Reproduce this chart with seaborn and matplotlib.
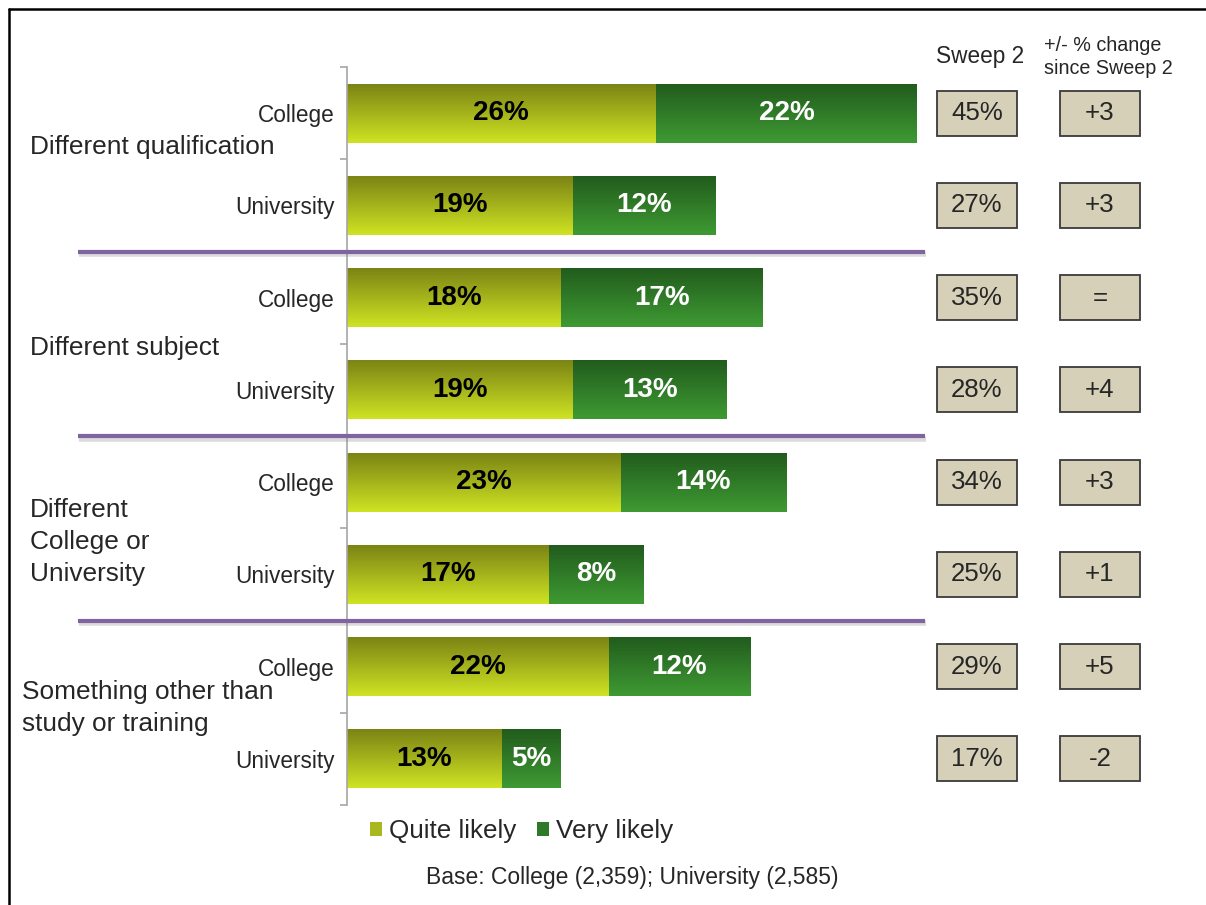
import numpy as np
import pandas as pd
import matplotlib
matplotlib.use("Agg")
import matplotlib.pyplot as plt
import seaborn as sns
from matplotlib.colors import to_rgb
from matplotlib.patches import Rectangle, Patch
from matplotlib.lines import Line2D
from matplotlib.transforms import blended_transform_factory
import matplotlib.patheffects as pe

# ---- data -------------------------------------------------------------
groups = ["Different qualification", "Different subject",
          "Different\nCollege or\nUniversity", "Something other than\nstudy or training"]
types = ["College", "University"]
quite_likely = [26, 19, 18, 19, 23, 17, 22, 13]
very_likely = [22, 12, 17, 13, 14, 8, 12, 5]
sweep2 = [45, 27, 35, 28, 34, 25, 29, 17]
change = ["+3", "+3", "=", "+4", "+3", "+1", "+5", "-2"]
series_names = ["Quite likely", "Very likely"]
base_note = "Base: College (2,359); University (2,585)"

# ---- style ------------------------------------------------------------
sns.set_style("white")
plt.rcParams["font.family"] = ["Liberation Sans", "DejaVu Sans"]

QUITE_TOP, QUITE_BOT = "#7A8314", "#CFE323"
VERY_TOP, VERY_BOT = "#215B1D", "#3F9A33"
PURPLE = "#8064A2"
BOX_FC = "#D6D0B8"

W, H = 1206, 905
fig = plt.figure(figsize=(W / 100, H / 100), dpi=100)
ax = fig.add_axes([347 / W, 1 - 805 / H, (917 - 347) / W, (805 - 67) / H])

rows = [f"{g}|{t}" for g in groups for t in types]
df = pd.DataFrame({"row": rows, "quite": quite_likely, "very": very_likely})
df["total"] = df["quite"] + df["very"]

# stacked bars: full total first, quite-likely part on top
n0 = len(ax.patches)
sns.barplot(data=df, y="row", x="total", order=rows, orient="h", color=VERY_BOT,
            width=0.64, saturation=1, errorbar=None, ax=ax)
very_patches = ax.patches[n0:]
n1 = len(ax.patches)
sns.barplot(data=df, y="row", x="quite", order=rows, orient="h", color=QUITE_BOT,
            width=0.64, saturation=1, errorbar=None, ax=ax)
quite_patches = ax.patches[n1:]


def gradient(top, bot, n=64):
    t = np.linspace(0, 1, n)[:, None, None]
    return np.array(to_rgb(top)) * (1 - t) + np.array(to_rgb(bot)) * t


def shade(patches, top, bot, z):
    g = gradient(top, bot)
    for p in patches:
        p.set_zorder(z)
        p.set_edgecolor("none")
        x0, y0, w, h = p.get_x(), p.get_y(), p.get_width(), p.get_height()
        im = ax.imshow(g, extent=(x0, x0 + w, y0 + h, y0), aspect="auto",
                       interpolation="bilinear", origin="upper", zorder=z + 0.1)
        im.set_clip_path(p)


shade(very_patches, VERY_TOP, VERY_BOT, 1.0)
shade(quite_patches, QUITE_TOP, QUITE_BOT, 1.5)

# value labels
for i, (q, v) in enumerate(zip(quite_likely, very_likely)):
    ax.text(q / 2, i, f"{q}%", ha="center", va="center", fontsize=20,
            fontweight="bold", color="black", zorder=5)
    ax.text(q + v / 2, i, f"{v}%", ha="center", va="center", fontsize=20,
            fontweight="bold", color="white", zorder=5)

ax.set_xlim(0, 48)
ax.set_ylim(len(rows) - 0.5, -0.5)
ax.set_xticks([])
ax.set_xlabel("")
ax.set_ylabel("")
sns.despine(ax=ax, bottom=True)
ax.spines["left"].set_color("#A6A6A6")
ax.spines["left"].set_linewidth(1.2)

ax.set_yticks(range(len(rows)))
ax.set_yticklabels(types * len(groups), fontsize=16.3)
ax.set_yticks(np.arange(-0.5, len(rows), 1), minor=True)
ax.tick_params(axis="y", which="major", length=0, pad=9)
ax.tick_params(axis="y", which="minor", left=True, length=5, width=1.2,
               color="#A6A6A6", direction="out")

tr = blended_transform_factory(fig.transFigure, ax.transData)

# group labels
group_y = [0.37, 2.55, 4.65, 6.45]
group_x = [30, 30, 30, 22]
for g, gy, gx in zip(groups, group_y, group_x):
    ax.text(gx / W, gy, g, transform=tr, ha="left", va="center", fontsize=18.9,
            linespacing=1.4, clip_on=False)

# group separators
for b in np.arange(len(types), len(rows), len(types)) - 0.5:
    ax.plot([78 / W, 925 / W], [b, b], transform=tr, color=PURPLE, lw=3,
            clip_on=False, solid_capstyle="butt", zorder=6,
            path_effects=[pe.SimpleLineShadow(offset=(1, -1.8), shadow_color="#888888",
                                              alpha=0.3, linewidth=4),
                          pe.Normal()])

# side tables
for i, (s, c) in enumerate(zip(sweep2, change)):
    for cx, txt in ((977, f"{s}%"), (1100, c)):
        fig.add_artist(Rectangle(((cx - 40) / W, i - 0.245), 80 / W, 0.49, transform=tr,
                                 facecolor=BOX_FC, edgecolor="#3A3A3A", lw=1.3))
        fig.text(cx / W, i, txt, transform=tr, ha="center", va="center", fontsize=18.6)

fig.text(980 / W, 1 - 57 / H, "Sweep 2", ha="center", va="center", fontsize=16.3)
fig.text(1044 / W, 1 - 57 / H, "+/- % change\nsince Sweep 2", ha="left", va="center",
         fontsize=14.2, linespacing=1.27)

# legend
handles = [Patch(facecolor="#A8B81E", edgecolor="none"),
           Patch(facecolor="#2F7A28", edgecolor="none")]
fig.legend(handles, series_names, ncol=2, frameon=False, fontsize=18.7,
           handlelength=0.46, handleheight=0.46, handletextpad=0.27,
           columnspacing=0.8, borderpad=0, loc="center",
           bbox_to_anchor=(522 / W, 1 - 831 / H))

fig.text(632 / W, 1 - 877 / H, base_note, ha="center", va="center", fontsize=16.5)

# outer frame (left and top edges)
fig.add_artist(Line2D([9 / W, 9 / W], [0, 1 - 9 / H], color="black", lw=1.8))
fig.add_artist(Line2D([9 / W, 1], [1 - 9 / H, 1 - 9 / H], color="black", lw=1.8))

fig.savefig("out.png", dpi=100)
